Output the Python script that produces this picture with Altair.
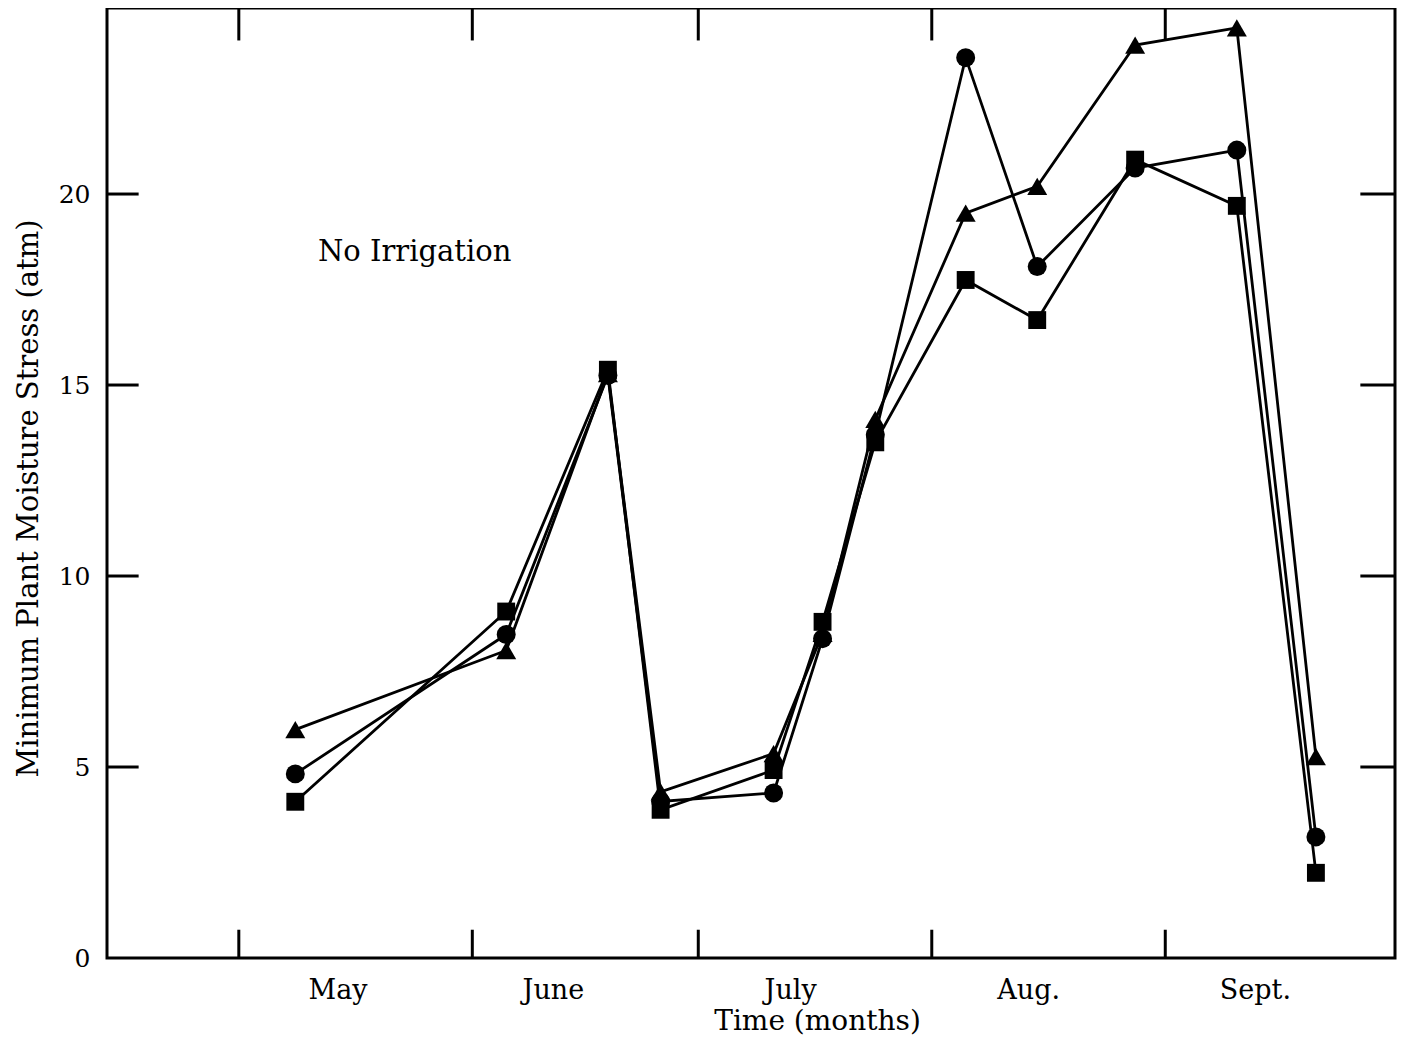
import altair as alt
import pandas as pd

# measurement dates, in days after 1 May
days = [7.5, 35.5, 49.0, 56.0, 71.0, 77.5, 84.5, 96.5, 106.0, 119.0, 132.5, 143.0]
triangle = [5.98, 8.05, 15.3, 4.35, 5.35, 8.5, 14.1, 19.5, 20.2, 23.9, 24.35, 5.27]
circle = [4.82, 8.47, 15.25, 4.1, 4.32, 8.36, 13.7, 23.57, 18.1, 20.68, 21.15, 3.17]
square = [4.09, 9.07, 15.4, 3.88, 4.92, 8.8, 13.5, 17.75, 16.7, 20.9, 19.69, 2.23]
series_names = ["triangle", "circle", "square"]

month_names = ["May", "June", "July", "Aug.", "Sept."]
month_label_days = [13.1, 41.7, 73.2, 104.8, 134.9]
month_start_days = [0, 31, 61, 92, 123]
y_label_values = [0, 5, 10, 15, 20]
y_tick_values = [5, 10, 15, 20]
x_domain = [-17.5, 153.5]
y_domain = [0, 24.87]

FONT = "DejaVu Serif"

rows = []
for name, vals in zip(series_names, [triangle, circle, square]):
    for d, v in zip(days, vals):
        rows.append({"day": d, "stress": v, "series": name})
df = pd.DataFrame(rows)

# inward tick marks of the frame
tick_rows = []
for d in month_start_days:
    tick_rows.append({"day": d, "day2": d, "stress": y_domain[0], "stress2": y_domain[0] + 0.74})
    tick_rows.append({"day": d, "day2": d, "stress": y_domain[1], "stress2": y_domain[1] - 0.85})
for v in y_tick_values:
    tick_rows.append({"day": x_domain[0], "day2": x_domain[0] + 4.2, "stress": v, "stress2": v})
    tick_rows.append({"day": x_domain[1], "day2": x_domain[1] - 4.6, "stress": v, "stress2": v})
ticks_df = pd.DataFrame(tick_rows)

note_df = pd.DataFrame({"day": [10.5], "stress": [18.25], "label": ["No Irrigation"]})

xs = alt.Scale(domain=x_domain, nice=False, zero=False)
ys = alt.Scale(domain=y_domain, nice=False, zero=False)

names_js = "[" + ",".join("'%s'" % m for m in month_names) + "]"
vals_js = "[" + ",".join(str(v) for v in month_label_days) + "]"

x_axis = alt.Axis(
    values=month_label_days,
    labelExpr=f"{names_js}[indexof({vals_js}, datum.value)]",
    ticks=False, tickSize=0, domain=False, grid=False,
    labelFont=FONT, labelFontSize=27, labelColor="black",
    labelPadding=19, labelBaseline="top", labelAlign="center",
    title="Time (months)", titleFont=FONT, titleFontSize=28, titleFontWeight="normal",
    titleColor="black", titleX=710, titleY=71, titleBaseline="alphabetic", titleAlign="center",
    titleAnchor="start",
)
y_axis = alt.Axis(
    values=y_label_values,
    ticks=False, tickSize=0, domain=False, grid=False,
    labelFont=FONT, labelFontSize=25, labelColor="black", labelPadding=17,
    title="Minimum Plant Moisture Stress (atm)", titleFont=FONT, titleFontSize=29,
    titleFontWeight="normal", titleColor="black", titleAngle=270,
    titleX=-70, titleY=490, titleBaseline="alphabetic", titleAlign="center", titleAnchor="start",
)

X = alt.X("day:Q", scale=xs, axis=x_axis)
Y = alt.Y("stress:Q", scale=ys, axis=y_axis)

lines = alt.Chart(df).mark_line(color="black", strokeWidth=2.8).encode(
    x=X, y=Y, detail="series:N", order="day:Q"
)

points = alt.Chart(df).mark_point(filled=True, opacity=1, color="black").encode(
    x=X, y=Y,
    shape=alt.Shape(
        "series:N",
        scale=alt.Scale(domain=series_names, range=["triangle-up", "circle", "square"]),
        legend=None,
    ),
    size=alt.Size(
        "series:N",
        scale=alt.Scale(domain=series_names, range=[400, 320, 300]),
        legend=None,
    ),
)

ticks = alt.Chart(ticks_df).mark_rule(color="black", strokeWidth=3).encode(
    x=X, x2="day2:Q", y=Y, y2="stress2:Q"
)

note = alt.Chart(note_df).mark_text(
    align="left", baseline="alphabetic", font=FONT, fontSize=29, color="black"
).encode(x=X, y=Y, text="label:N")

chart = alt.layer(ticks, lines, points, note).properties(
    width=1288,
    height=950,
    autosize=alt.AutoSizeParams(type="none"),
    padding={"left": 99, "top": 0, "right": 2, "bottom": 77},
    background="white",
).configure_view(stroke="black", strokeWidth=3)

chart.save("out.html", embed_options={"renderer": "svg", "actions": False})
